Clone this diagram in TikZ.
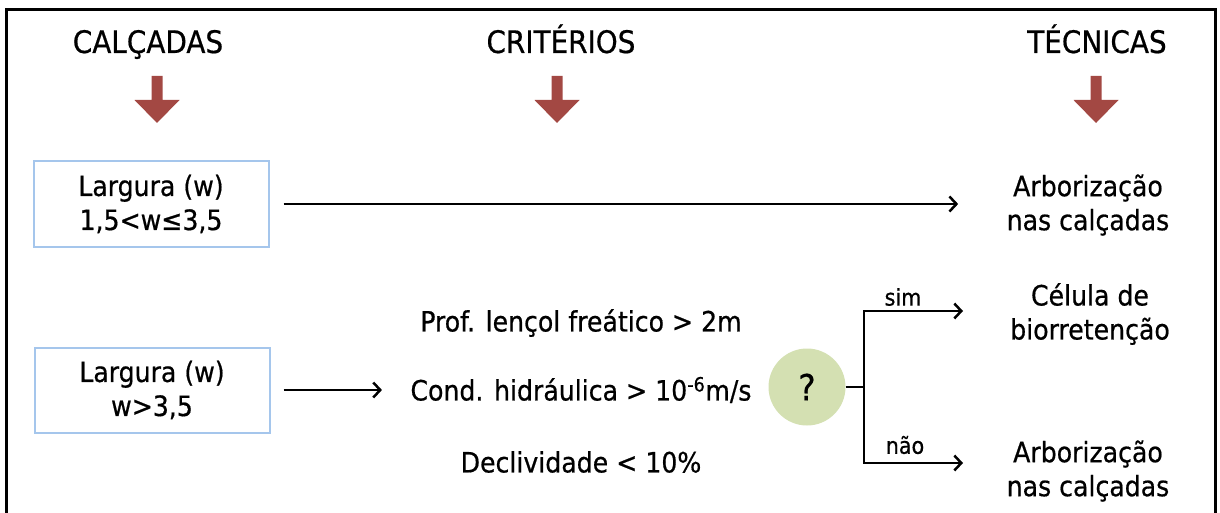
\documentclass[tikz,border=0pt]{standalone}
\usepackage{fontspec}
\setmainfont[FakeBold=0.6,AutoFakeBold=0.6]{DejaVu Sans Condensed}
\usepackage{tikz}
\usetikzlibrary{arrows.meta}
\definecolor{setared}{RGB}{163,72,67}
\definecolor{caixaazul}{RGB}{165,198,236}
\definecolor{bolaverde}{RGB}{212,224,178}

\begin{document}
\begin{tikzpicture}[x=1pt,y=-1pt,
  font=\fontsize{28}{34}\selectfont\bfseries,
  caixa/.style={draw=caixaazul,line width=2,minimum width=235,minimum height=85,align=center},
  titulo/.style={font=\fontsize{31}{36}\selectfont\bfseries,anchor=base},
  texto/.style={align=center},
  rotulo/.style={font=\fontsize{23}{26}\selectfont\bfseries},
  seta/.style={-{Straight Barb[length=7,width=15]},line width=2.5}]
\useasboundingbox (0,0) rectangle (1220,513);
\draw[line width=3] (6,513) -- (6,10) -- (1215,10) -- (1215,513);

% titulos
\node[titulo] (calcadas) at (148,53) {CALÇADAS};
\node[titulo] (criterios) at (561,53) {CRITÉRIOS};
\node[titulo] (tecnicas) at (1097,53) {TÉCNICAS};
\foreach \x in {157,557,1096}
  \fill[setared] (\x-5.5,76) -- (\x+5.5,76) -- (\x+5.5,100) -- (\x+22.5,100)
    -- (\x,123) -- (\x-22.5,100) -- (\x-5.5,100) -- cycle;

% calcadas
\node[caixa] (larg1) at (151,204) {Largura (w)\\1,5<w≤3,5};
\node[caixa] (larg2) at (152,390) {Largura (w)\\w>3,5};

% criterios
\node (crit1) at (581,323) {Prof. lençol freático > 2m};
\node (crit2) at (581,390) {Cond. hidráulica > 10\textsuperscript{-6}m/s};
\node (crit3) at (581,462) {Declividade < 10\%};
\node[circle,fill=bolaverde,minimum size=77,font=\fontsize{36}{40}\selectfont\bfseries] (pergunta) at (807,387) {?};

% tecnicas
\node[texto] (arb1) at (1088,205) {Arborização\\nas calçadas};
\node[texto] (celula) at (1090,314) {Célula de\\biorretenção};
\node[texto] (arb2) at (1088,471) {Arborização\\nas calçadas};

\draw[seta,shorten <=14,shorten >=45] (larg1.east) -- (larg1.east -| arb1.west);
\draw[seta,shorten <=13,shorten >=25] (larg2.east) -- (crit2.west);

\coordinate (ramo) at (864,387);
\coordinate (sim) at (963,311);
\coordinate (nao) at (963,463);
\draw[line width=2.5] (pergunta.east) -- (ramo);
\draw[seta] (ramo) |- (sim);
\draw[seta] (ramo) |- (nao);
\node[rotulo] (rotsim) at (903,297) {sim};
\node[rotulo] (rotnao) at (905,445) {não};
\end{tikzpicture}
\end{document}
